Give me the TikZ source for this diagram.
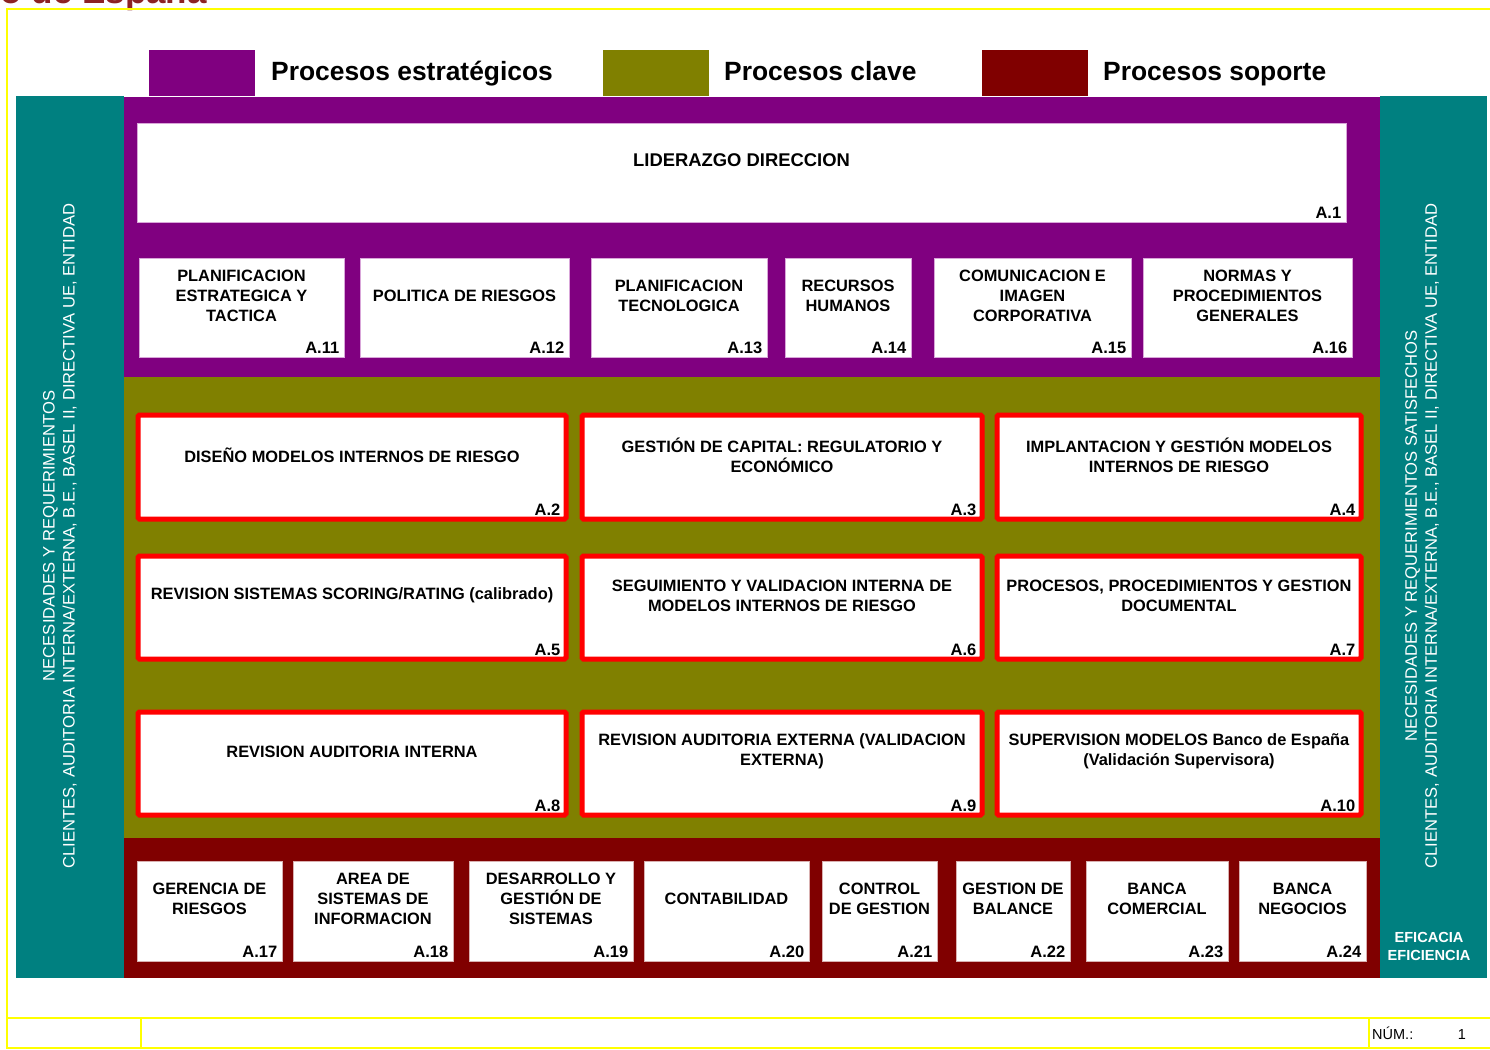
\documentclass[tikz,border=0pt]{standalone}
\usepackage{fontspec}
\setmainfont{Liberation Sans}
\definecolor{cpurple}{HTML}{800080}
\definecolor{colive}{HTML}{808000}
\definecolor{cmaroon}{HTML}{800000}
\definecolor{cteal}{HTML}{008080}
\definecolor{cyell}{HTML}{FFFF00}
\definecolor{ctitle}{HTML}{8C2323}
\definecolor{cthinp}{HTML}{D9A6D9}
\definecolor{cthinm}{HTML}{D9B0B0}
\tikzset{
  wboxp/.style={draw=cthinp, line width=0.8pt, fill=white, inner sep=0pt},
  wboxm/.style={draw=cthinm, line width=0.8pt, fill=white, inner sep=0pt},
  rbox/.style={draw=red, line width=5pt, fill=white, rounded corners=1.5pt, inner sep=0pt},
  boxtext/.style={align=center, inner sep=0pt, font=\fontsize{16.4}{20}\selectfont\bfseries},
  boxlabel/.style={anchor=base east, inner sep=0pt, font=\fontsize{16.5}{20}\selectfont\bfseries},
  legtext/.style={anchor=base west, inner sep=0pt, font=\fontsize{26.4}{30}\selectfont\bfseries},
  sidetext/.style={align=center, inner sep=0pt, text=white, rotate=90, font=\fontsize{16.6}{20}\selectfont},
  yline/.style={draw=cyell, line width=2pt},
}
% white box: style, name, x1, y1, x2, y2, text, label
\newcommand{\wbx}[8]{%
  \node[#1, minimum width={#5-#3}, minimum height={#6-#4}] (#2) at ({(#3+#5)/2},{(#4+#6)/2}) {};
  \node[boxtext] (#2t) at ([yshift=12pt]#2.center) {#7};
  \node[boxlabel] (#2l) at ([xshift=-5pt,yshift=4pt]#2.south east) {#8};
}
% red box (path coordinates)
\newcommand{\rbx}[7]{%
  \node[rbox, minimum width={#4-#2}, minimum height={#5-#3}] (#1) at ({(#2+#4)/2},{(#3+#5)/2}) {};
  \node[boxtext] (#1t) at ([yshift=12pt]#1.center) {#6};
  \node[boxlabel] (#1l) at ([xshift=-8pt,yshift=6.5pt]#1.south east) {#7};
}
\begin{document}
\begin{tikzpicture}[x=1pt,y=-1pt]
\useasboundingbox (0,0) rectangle (1490,1049);
\clip (0,0) rectangle (1490,1049);
\fill[white] (0,0) rectangle (1490,1049);

% cut-off title at the top
\node[anchor=base east, inner sep=0pt, text=ctitle, font=\fontsize{35}{40}\selectfont\bfseries] (title) at (207,4) {Banco de España};

% yellow frame
\draw[yline] (1490,9) -- (7,9) -- (7,1049);
\draw[yline] (7,1018) -- (1490,1018);
\draw[yline] (7,1048) -- (1490,1048);
\draw[yline] (141,1018) -- (141,1048);
\draw[yline] (1369,1018) -- (1369,1048);

% legend
\fill[cpurple] (149,50) rectangle (255,96);
\node[legtext] (leg1) at (271,80) {Procesos estratégicos};
\fill[colive] (603,50) rectangle (709,96);
\node[legtext] (leg2) at (724,80) {Procesos clave};
\fill[cmaroon] (982,50) rectangle (1088,96);
\node[legtext] (leg3) at (1103,80) {Procesos soporte};

% bands
\fill[cteal] (16,96) rectangle (124,978);
\fill[cteal] (1380,96) rectangle (1487,978);
\fill[cpurple] (124,97) rectangle (1380,377);
\fill[colive] (124,377) rectangle (1380,838);
\fill[cmaroon] (124,838) rectangle (1380,978);

% side texts
\node[sidetext] (lside) at (60,536) {NECESIDADES Y REQUERIMIENTOS\\CLIENTES, AUDITORIA INTERNA/EXTERNA, B.E., BASEL II, DIRECTIVA UE, ENTIDAD};
\node[sidetext] (rside) at (1422,536) {NECESIDADES Y REQUERIMIENTOS SATISFECHOS\\CLIENTES, AUDITORIA INTERNA/EXTERNA, B.E., BASEL II, DIRECTIVA UE, ENTIDAD};
\node[align=center, inner sep=0pt, text=white, font=\fontsize{14.6}{18}\selectfont\bfseries] (efic) at (1429,946) {EFICACIA\\EFICIENCIA};

% strategic processes
\wbx{wboxp}{a1}{137}{123}{1346}{222}{\fontsize{18.4}{20}\selectfont LIDERAZGO DIRECCION}{A.1}
\wbx{wboxp}{a11}{139}{258}{344}{357}{PLANIFICACION\\ESTRATEGICA Y\\TACTICA}{A.11}
\wbx{wboxp}{a12}{360}{258}{569}{357}{POLITICA DE RIESGOS}{A.12}
\wbx{wboxp}{a13}{591}{258}{767}{357}{PLANIFICACION\\TECNOLOGICA}{A.13}
\wbx{wboxp}{a14}{785}{258}{911}{357}{RECURSOS\\HUMANOS}{A.14}
\wbx{wboxp}{a15}{934}{258}{1131}{357}{COMUNICACION E\\IMAGEN\\CORPORATIVA}{A.15}
\wbx{wboxp}{a16}{1143}{258}{1352}{357}{NORMAS Y\\PROCEDIMIENTOS\\GENERALES}{A.16}

% key processes
\rbx{a2}{138}{415}{566}{519}{DISEÑO MODELOS INTERNOS DE RIESGO}{A.2}
\rbx{a3}{582}{415}{982}{519}{GESTIÓN DE CAPITAL: REGULATORIO Y\\ECONÓMICO}{A.3}
\rbx{a4}{997}{415}{1361}{519}{IMPLANTACION Y GESTIÓN MODELOS\\INTERNOS DE RIESGO}{A.4}
\rbx{a5}{138}{556}{566}{659}{REVISION SISTEMAS SCORING/RATING (calibrado)}{A.5}
\rbx{a6}{582}{556}{982}{659}{SEGUIMIENTO Y VALIDACION INTERNA DE\\MODELOS INTERNOS DE RIESGO}{A.6}
\rbx{a7}{997}{556}{1361}{659}{PROCESOS, PROCEDIMIENTOS Y GESTION\\DOCUMENTAL}{A.7}
\rbx{a8}{138}{712}{566}{815}{REVISION AUDITORIA INTERNA}{A.8}
\rbx{a9}{582}{712}{982}{815}{REVISION AUDITORIA EXTERNA (VALIDACION\\EXTERNA)}{A.9}
\rbx{a10}{997}{712}{1361}{815}{SUPERVISION MODELOS Banco de España\\(Validación Supervisora)}{A.10}

% support processes
\wbx{wboxm}{a17}{137}{861}{282}{961}{GERENCIA DE\\RIESGOS}{A.17}
\wbx{wboxm}{a18}{293}{861}{453}{961}{AREA DE\\SISTEMAS DE\\INFORMACION}{A.18}
\wbx{wboxm}{a19}{469}{861}{633}{961}{DESARROLLO Y\\GESTIÓN DE\\SISTEMAS}{A.19}
\wbx{wboxm}{a20}{644}{861}{809}{961}{CONTABILIDAD}{A.20}
\wbx{wboxm}{a21}{822}{861}{937}{961}{CONTROL\\DE GESTION}{A.21}
\wbx{wboxm}{a22}{956}{861}{1070}{961}{GESTION DE\\BALANCE}{A.22}
\wbx{wboxm}{a23}{1086}{861}{1228}{961}{BANCA\\COMERCIAL}{A.23}
\wbx{wboxm}{a24}{1239}{861}{1366}{961}{BANCA\\NEGOCIOS}{A.24}

% footer
\node[anchor=base west, inner sep=0pt, font=\fontsize{14.5}{17}\selectfont] (num) at (1372,1039) {NÚM.:};
\node[anchor=base, inner sep=0pt, font=\fontsize{14.5}{17}\selectfont] (numv) at (1462,1039) {1};
\end{tikzpicture}
\end{document}
